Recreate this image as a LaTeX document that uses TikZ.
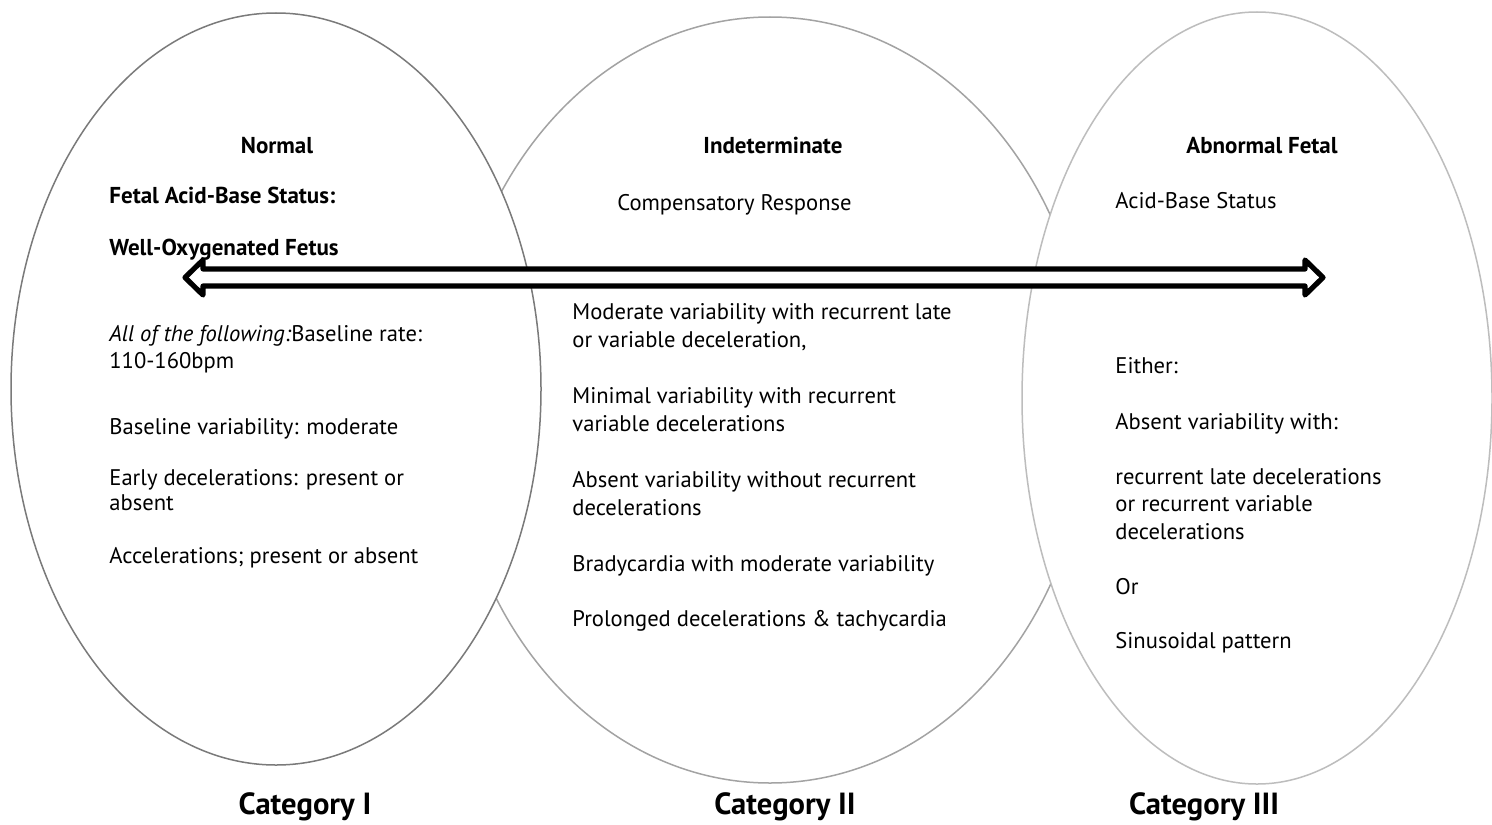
\documentclass[tikz,border=0pt]{standalone}
\usepackage{fontspec}
\setmainfont{PT Sans}
\begin{document}
\begin{tikzpicture}[x=0.5pt,y=0.5pt,
  txt/.style={anchor=base west, inner sep=0pt, font=\fontsize{11.3}{13}\selectfont},
  hdc/.style={anchor=base, inner sep=0pt, font=\fontsize{11.5}{13}\selectfont\bfseries},
  hdl/.style={anchor=base west, inner sep=0pt, font=\fontsize{11.5}{13}\selectfont\bfseries},
  catlabel/.style={anchor=base, inner sep=0pt, font=\fontsize{15.3}{18}\selectfont\bfseries},
  ringA/.style={draw=black!52, line width=0.75pt, fill=white},
  ringB/.style={draw=black!36, line width=0.75pt},
  ringC/.style={draw=black!26, line width=0.75pt, fill=white},
  bigarrow/.style={draw=black, line width=2.6pt, fill=white, line join=round}]
\fill[white] (0,0) rectangle (1492,-824);
\useasboundingbox (0,0) rectangle (1492,-824);

% ellipses
\draw[ringB] (770,-400) ellipse [x radius=320, y radius=383];
\draw[ringA] (276,-389) ellipse [x radius=265, y radius=376];
\draw[ringC] (1257,-398) ellipse [x radius=235, y radius=386];

% double-headed block arrow
\draw[bigarrow] (185,-277.5) -- (203,-260) -- (203,-269) -- (1305,-269) -- (1305,-260)
  -- (1323,-277.5) -- (1305,-295) -- (1305,-286) -- (203,-286) -- (203,-295) -- cycle;

% left column
\node[hdc] (normal) at (277,-153) {Normal};
\node[hdl] (fabs) at (109,-203) {Fetal Acid-Base Status:};
\node[hdl] (wof) at (109,-255) {Well-Oxygenated Fetus};
\node[txt] (allof) at (109,-341) {\textit{All of the following:}Baseline rate:};
\node[txt] (rate) at (109,-368) {110-160bpm};
\node[txt] (bvar) at (109,-434) {Baseline variability: moderate};
\node[txt] (early1) at (109,-485) {Early decelerations: present or};
\node[txt] (early2) at (109,-510) {absent};
\node[txt] (accel) at (109,-563) {Accelerations; present or absent};

% middle column
\node[hdc] (indet) at (773,-153) {Indeterminate};
\node[txt] (comp) at (617,-210) {Compensatory Response};
\node[txt] (mod1) at (572,-319) {Moderate variability with recurrent late};
\node[txt] (mod2) at (572,-347) {or variable deceleration,};
\node[txt] (min1) at (572,-403) {Minimal variability with recurrent};
\node[txt] (min2) at (572,-431) {variable decelerations};
\node[txt] (abs1) at (572,-487) {Absent variability without recurrent};
\node[txt] (abs2) at (572,-515) {decelerations};
\node[txt] (brady) at (572,-571) {Bradycardia with moderate variability};
\node[txt] (prol) at (572,-626) {Prolonged decelerations \& tachycardia};

% right column
\node[hdc] (abn) at (1262,-153) {Abnormal Fetal};
\node[txt] (abs) at (1115,-208) {Acid-Base Status};
\node[txt] (either) at (1115,-373) {Either:};
\node[txt] (absw) at (1115,-429) {Absent variability with:};
\node[txt] (rec1) at (1115,-484) {recurrent late decelerations};
\node[txt] (rec2) at (1115,-511) {or recurrent variable};
\node[txt] (rec3) at (1115,-539) {decelerations};
\node[txt] (or) at (1115,-594) {Or};
\node[txt] (sinus) at (1115,-648) {Sinusoidal pattern};

% category labels
\node[catlabel] (cat1) at (305,-814) {Category I};
\node[catlabel] (cat2) at (785,-814) {Category II};
\node[catlabel] (cat3) at (1204,-814) {Category III};
\end{tikzpicture}
\end{document}
